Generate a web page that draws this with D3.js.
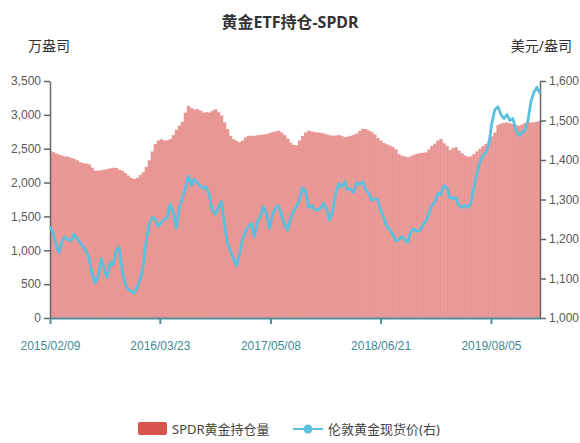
<!DOCTYPE html>
<html>
<head>
<meta charset="utf-8">
<script src="https://cdn.jsdelivr.net/npm/d3@7"></script>
<style>
body { margin: 0; background: #fff; }
svg { font-family: "Noto Sans", "Noto Sans CJK SC", sans-serif; }
.axisY text { fill: #595959; font-size: 12px; }
.axisY path, .axisY line { stroke: #666; }
.axisX text { fill: #3f8a94; font-size: 12px; }
.axisX path, .axisX line { stroke: #4e8f99; }
</style>
</head>
<body>
<div class="chart_container"></div>
<script>
var width = 580
var height = 443
var margin = {left: 50, right: 40, top: 81, bottom: 125}

// sampled about every 11 days starting 2015/02/09
var startDate = "2015/02/09"
var stepHours = 268

var holdings = [2470, 2450, 2430, 2410, 2397, 2385, 2382, 2365, 2350, 2330,
  2300, 2287, 2280, 2270, 2220, 2176, 2176, 2180, 2190, 2200,
  2210, 2220, 2215, 2190, 2176, 2140, 2103, 2070, 2054, 2070,
  2110, 2152, 2230, 2330, 2460, 2569, 2620, 2640, 2620, 2625,
  2642, 2700, 2780, 2840, 2900, 3034, 3132, 3100, 3080, 3083,
  3060, 3034, 3040, 3034, 3060, 3083, 3040, 2990, 2890, 2790,
  2691, 2640, 2615, 2595, 2620, 2667, 2691, 2691, 2691, 2700,
  2705, 2710, 2716, 2730, 2745, 2755, 2765, 2740, 2700, 2650,
  2590, 2555, 2550, 2620, 2690, 2740, 2765, 2755, 2745, 2740,
  2735, 2725, 2710, 2700, 2691, 2695, 2701, 2690, 2670, 2680,
  2691, 2705, 2725, 2760, 2795, 2790, 2770, 2745, 2710, 2660,
  2620, 2585, 2565, 2545, 2525, 2490, 2420, 2395, 2385, 2372,
  2390, 2410, 2425, 2435, 2440, 2446, 2490, 2540, 2575, 2620,
  2642, 2580, 2540, 2480, 2510, 2520, 2470, 2430, 2400, 2380,
  2390, 2420, 2460, 2500, 2540, 2570, 2620, 2680, 2740, 2850,
  2870, 2885, 2887, 2875, 2863, 2850, 2838, 2860, 2880, 2887,
  2887, 2890, 2900, 2912]

var price = [1231, 1215, 1185, 1165, 1195, 1205, 1198, 1195, 1212, 1200,
  1192, 1180, 1170, 1152, 1110, 1088, 1105, 1150, 1125, 1102,
  1140, 1135, 1170, 1180, 1120, 1088, 1072, 1068, 1062, 1078,
  1098, 1130, 1195, 1238, 1255, 1250, 1232, 1240, 1250, 1254,
  1288, 1269, 1227, 1278, 1303, 1328, 1360, 1335, 1352, 1342,
  1335, 1328, 1332, 1310, 1272, 1262, 1280, 1295, 1240, 1188,
  1170, 1150, 1132, 1160, 1198, 1220, 1231, 1240, 1205, 1244,
  1257, 1282, 1265, 1227, 1261, 1278, 1285, 1260, 1238, 1222,
  1250, 1272, 1282, 1300, 1330, 1320, 1280, 1285, 1275, 1273,
  1278, 1290, 1275, 1248, 1270, 1315, 1340, 1332, 1345, 1325,
  1326, 1318, 1342, 1338, 1345, 1325, 1316, 1298, 1302, 1300,
  1272, 1255, 1232, 1225, 1212, 1195, 1198, 1206, 1198, 1192,
  1218, 1226, 1220, 1222, 1236, 1246, 1262, 1285, 1293, 1315,
  1312, 1335, 1330, 1305, 1302, 1306, 1285, 1280, 1285, 1280,
  1290, 1330, 1365, 1395, 1412, 1418, 1440, 1495, 1528, 1535,
  1515, 1505, 1515, 1500, 1505, 1475, 1462, 1468, 1475, 1500,
  1548, 1572, 1584, 1568]

var xTickLabels = ["2015/02/09", "2016/03/23", "2017/05/08", "2018/06/21", "2019/08/05"]
var leftTicks = [0, 500, 1000, 1500, 2000, 2500, 3000, 3500]
var rightTicks = [1000, 1100, 1200, 1300, 1400, 1500, 1600]

var parseDate = d3.timeParse("%Y/%m/%d")
var start = parseDate(startDate)
var dates = holdings.map(function (d, i) { return d3.timeHour.offset(start, i * stepHours) })

var svg = d3.select(".chart_container").append("svg")
  .attr("width", width)
  .attr("height", height)

var x0 = margin.left
var x1 = width - margin.right
var y0 = height - margin.bottom
var y1 = margin.top

var scaleX = d3.scaleTime()
  .domain([start, dates[dates.length - 1]])
  .range([x0, x1])

var scaleLeft = d3.scaleLinear().domain([0, 3500]).range([y0, y1])
var scaleRight = d3.scaleLinear().domain([1000, 1600]).range([y0, y1])

var step = scaleX(dates[1]) - scaleX(dates[0])

svg.append("clipPath").attr("id", "plotClip")
  .append("rect")
  .attr("x", x0).attr("y", 0)
  .attr("width", x1 - x0).attr("height", y0)

// holdings bars, slightly overlapped so the fill reads as one mass
svg.append("g")
  .attr("clip-path", "url(#plotClip)")
  .style("opacity", 0.6)
  .selectAll("rect")
  .data(holdings)
  .enter()
  .append("rect")
  .attr("x", function (d, i) { return scaleX(dates[i]) - step / 2 })
  .attr("width", step + 0.4)
  .attr("y", function (d) { return scaleLeft(d) })
  .attr("height", function (d) { return y0 - scaleLeft(d) })
  .style("fill", "#d9534f")

// axes
var axisLeft = d3.axisLeft(scaleLeft).tickValues(leftTicks)
  .tickFormat(d3.format(",")).tickSizeInner(6).tickSizeOuter(0).tickPadding(3)
var axisRight = d3.axisRight(scaleRight).tickValues(rightTicks)
  .tickFormat(d3.format(",")).tickSizeInner(6).tickSizeOuter(0).tickPadding(3)
var axisBottom = d3.axisBottom(scaleX).tickValues(xTickLabels.map(parseDate))
  .tickFormat(d3.timeFormat("%Y/%m/%d")).tickSizeInner(6).tickSizeOuter(0).tickPadding(17)

svg.append("g").attr("class", "axisY")
  .attr("transform", "translate(" + x0 + ",0)")
  .call(axisLeft)
  .selectAll("path, line").style("stroke-width", 1.5)

svg.append("g").attr("class", "axisY")
  .attr("transform", "translate(" + x1 + ",0)")
  .call(axisRight)
  .selectAll("path, line").style("stroke-width", 1.5)

svg.append("g").attr("class", "axisX")
  .attr("transform", "translate(0," + y0 + ")")
  .call(axisBottom)
  .selectAll("path, line").style("stroke-width", 2)

// price line
var priceLine = d3.line()
  .x(function (d, i) { return scaleX(dates[i]) })
  .y(function (d) { return scaleRight(d) })

svg.append("path")
  .datum(price)
  .attr("d", priceLine)
  .style("fill", "none")
  .style("stroke", "#5bc0de")
  .style("stroke-width", 2.8)
  .style("stroke-linejoin", "round")

// titles
svg.append("text")
  .attr("x", width / 2)
  .attr("y", 28)
  .style("text-anchor", "middle")
  .style("font-size", "16px")
  .style("font-weight", "bold")
  .style("fill", "#333")
  .text("黄金ETF持仓-SPDR")

svg.append("text")
  .attr("x", 28).attr("y", 51)
  .style("font-size", "14px").style("fill", "#333")
  .text("万盎司")

svg.append("text")
  .attr("x", 572).attr("y", 51)
  .style("text-anchor", "end")
  .style("font-size", "14px").style("fill", "#333")
  .text("美元/盎司")

// legend
var legend = svg.append("g").attr("transform", "translate(0,429)")
legend.append("rect")
  .attr("x", 138).attr("y", -7).attr("width", 29).attr("height", 13).attr("rx", 2)
  .style("fill", "#d9534f")
legend.append("text")
  .attr("x", 172).attr("y", 5)
  .style("font-size", "13px").style("fill", "#444")
  .text("SPDR黄金持仓量")
legend.append("line")
  .attr("x1", 293).attr("x2", 323).attr("y1", 0).attr("y2", 0)
  .style("stroke", "#5bc0de").style("stroke-width", 2)
legend.append("circle")
  .attr("cx", 308).attr("cy", 0).attr("r", 4.5)
  .style("fill", "#5bc0de")
legend.append("text")
  .attr("x", 328).attr("y", 5)
  .style("font-size", "13px").style("fill", "#444")
  .text("伦敦黄金现货价(右)")
</script>
</body>
</html>
